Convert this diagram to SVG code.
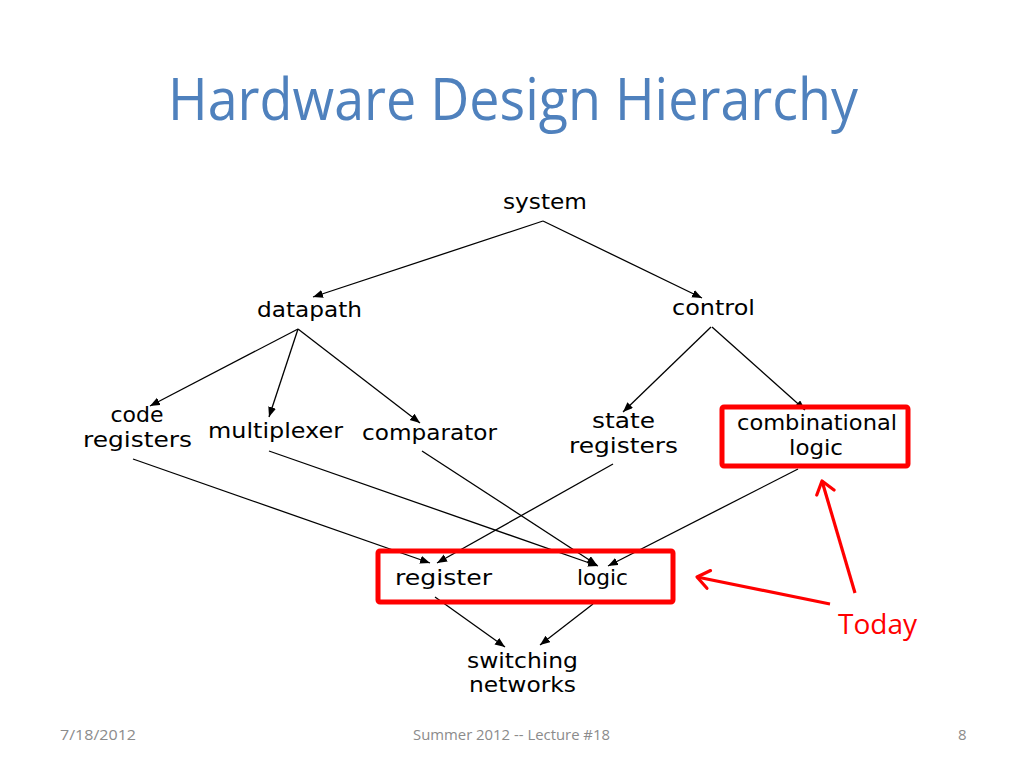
<svg xmlns="http://www.w3.org/2000/svg" width="1024" height="768" viewBox="0 0 1024 768">
<defs>
<style>
.n{font-family:"Comic Sans MS","DejaVu Sans",sans-serif;font-size:22px;fill:#000;text-anchor:middle}
.c line{stroke:#000;stroke-width:1.3;marker-end:url(#ah)}
.box{fill:none;stroke:#f00;stroke-width:5}
.r{stroke:#f00;stroke-width:3.2;fill:none;marker-end:url(#rh)}
.f{font-family:"Open Sans","Liberation Sans",sans-serif;font-size:15px;fill:#8b8b8b}
</style>
<marker id="ah" markerUnits="userSpaceOnUse" markerWidth="12" markerHeight="10" refX="10" refY="4" orient="auto">
<path d="M0,0 L10,4 L0,8 z" fill="#000"/>
</marker>
<marker id="rh" markerUnits="userSpaceOnUse" markerWidth="20" markerHeight="24" refX="14" refY="11" orient="auto">
<path d="M2,2 L14,11 L2,20" fill="none" stroke="#f00" stroke-width="3.2" stroke-linecap="round" stroke-linejoin="round"/>
</marker>
</defs>
<rect width="1024" height="768" fill="#fff"/>
<text x="513" y="120" font-family="Open Sans,Liberation Sans,sans-serif" font-size="58" fill="#4f81bd" text-anchor="middle" textLength="690" lengthAdjust="spacingAndGlyphs">Hardware Design Hierarchy</text>

<g class="c" id="connectors">
<line x1="543" y1="221" x2="313" y2="297"/>
<line x1="543" y1="221" x2="702" y2="298"/>
<line x1="298" y1="329" x2="150" y2="406"/>
<line x1="298" y1="329" x2="269" y2="417"/>
<line x1="298" y1="329" x2="420" y2="423"/>
<line x1="711" y1="327" x2="623" y2="412"/>
<line x1="712" y1="327" x2="805" y2="410"/>
<line x1="133" y1="459" x2="430" y2="563"/>
<line x1="269" y1="451" x2="598" y2="566"/>
<line x1="422" y1="451" x2="597" y2="565"/>
<line x1="613" y1="464" x2="437" y2="563"/>
<line x1="798" y1="469" x2="608" y2="566"/>
<line x1="435" y1="597" x2="505" y2="647"/>
<line x1="593" y1="604" x2="540" y2="645"/>
</g>

<g id="system"><text class="n" x="545" y="209" textLength="84" lengthAdjust="spacingAndGlyphs">system</text></g>
<g id="datapath"><text class="n" x="309.5" y="317" textLength="105" lengthAdjust="spacingAndGlyphs">datapath</text></g>
<g id="control"><text class="n" x="713.5" y="315" textLength="83" lengthAdjust="spacingAndGlyphs">control</text></g>
<g id="code-registers">
<text class="n" x="137" y="422" textLength="53" lengthAdjust="spacingAndGlyphs">code</text>
<text class="n" x="137.5" y="447" textLength="109" lengthAdjust="spacingAndGlyphs">registers</text>
</g>
<g id="multiplexer"><text class="n" x="275.5" y="438" textLength="135" lengthAdjust="spacingAndGlyphs">multiplexer</text></g>
<g id="comparator"><text class="n" x="429.5" y="440" textLength="135" lengthAdjust="spacingAndGlyphs">comparator</text></g>
<g id="state-registers">
<text class="n" x="623.5" y="428" textLength="63" lengthAdjust="spacingAndGlyphs">state</text>
<text class="n" x="623.5" y="453" textLength="109" lengthAdjust="spacingAndGlyphs">registers</text>
</g>
<g id="combinational-logic">
<rect class="box" x="722" y="407" width="186" height="59" rx="2"/>
<text class="n" x="817" y="430" textLength="160" lengthAdjust="spacingAndGlyphs">combinational</text>
<text class="n" x="816" y="455" textLength="54" lengthAdjust="spacingAndGlyphs">logic</text>
</g>
<g id="register-logic">
<rect class="box" x="378" y="551" width="295" height="51" rx="2"/>
</g>
<g id="register"><text class="n" x="443.5" y="585" textLength="97" lengthAdjust="spacingAndGlyphs">register</text></g>
<g id="logic"><text class="n" x="602.5" y="585" textLength="51" lengthAdjust="spacingAndGlyphs">logic</text></g>
<g id="switching-networks">
<text class="n" x="522.5" y="668" textLength="111" lengthAdjust="spacingAndGlyphs">switching</text>
<text class="n" x="522.5" y="692" textLength="107" lengthAdjust="spacingAndGlyphs">networks</text>
</g>

<g id="today">
<line class="r" x1="855" y1="593" x2="822" y2="481"/>
<line class="r" x1="830" y1="604" x2="697" y2="577"/>
<text x="877.5" y="634" font-family="Open Sans,Liberation Sans,sans-serif" font-size="27" fill="#f00" text-anchor="middle" textLength="79" lengthAdjust="spacingAndGlyphs">Today</text>
</g>

<g id="footer">
<text class="f" x="60" y="740" textLength="76" lengthAdjust="spacingAndGlyphs">7/18/2012</text>
<text class="f" x="413" y="740" textLength="197" lengthAdjust="spacingAndGlyphs">Summer 2012 -- Lecture #18</text>
<text class="f" x="958" y="740">8</text>
</g>
</svg>
